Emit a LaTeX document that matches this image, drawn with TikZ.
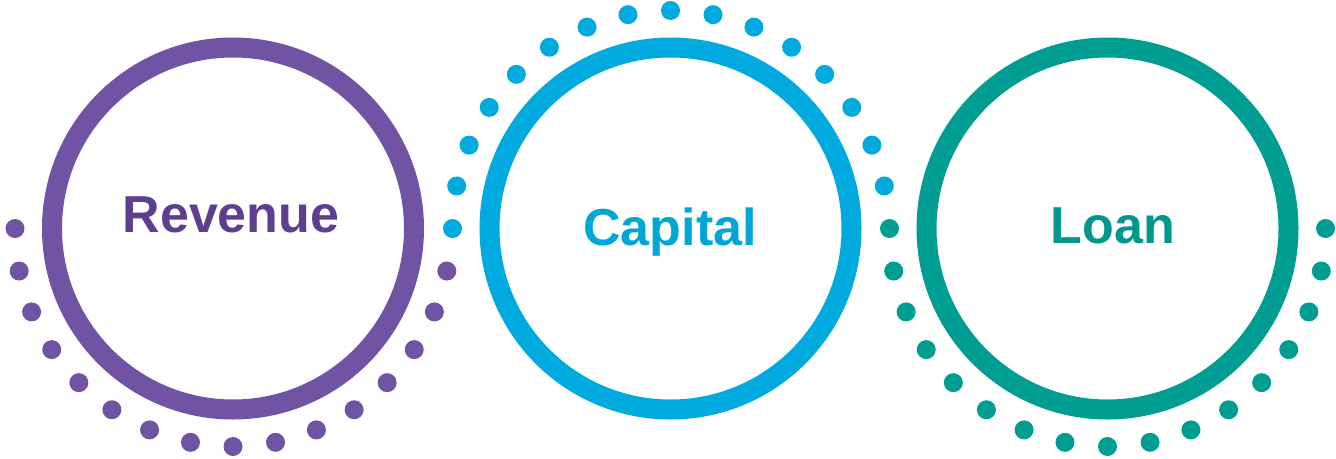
\documentclass[tikz,border=0pt]{standalone}
\usepackage{fontspec}
\setmainfont{Liberation Sans}
\usetikzlibrary{calc}
\definecolor{cpurple}{RGB}{112,84,163}
\definecolor{tpurple}{RGB}{94,63,143}
\definecolor{cblue}{RGB}{0,170,222}
\definecolor{tblue}{RGB}{0,166,214}
\definecolor{cteal}{RGB}{0,158,146}
\definecolor{tteal}{RGB}{0,152,140}
\begin{document}
\begin{tikzpicture}[x=1pt,y=-1pt,
  ring/.style={line width=20pt},
  dotmark/.style={circle,inner sep=0pt,minimum size=19pt},
  label/.style={font=\fontsize{52}{60}\selectfont\bfseries,anchor=base,inner sep=0pt}]
\useasboundingbox (0,0) rectangle (1336,458);
\coordinate (c1) at (233,228.5);
\coordinate (c2) at (670.5,228.5);
\coordinate (c3) at (1107.5,228.5);
\draw[ring,cpurple] (c1) circle[radius=181];
\draw[ring,cblue] (c2) circle[radius=181];
\draw[ring,cteal] (c3) circle[radius=181];
\foreach \i in {0,...,15}{
  \node[dotmark,fill=cpurple] (pd\i) at ($(c1)+({-180-11.25*\i}:218)$) {};
}
\foreach \i in {1,...,16}{
  \node[dotmark,fill=cblue] (bd\i) at ($(c2)+({-11.25*\i}:218)$) {};
}
\foreach \i in {0,...,16}{
  \node[dotmark,fill=cteal] (td\i) at ($(c3)+({-180-11.25*\i}:218)$) {};
}
\node[label,text=tpurple] (t1) at (231,232) {Revenue};
\node[label,text=tblue] (t2) at (670,245) {Capital};
\node[label,text=tteal] (t3) at (1113,243) {Loan};
\end{tikzpicture}
\end{document}
